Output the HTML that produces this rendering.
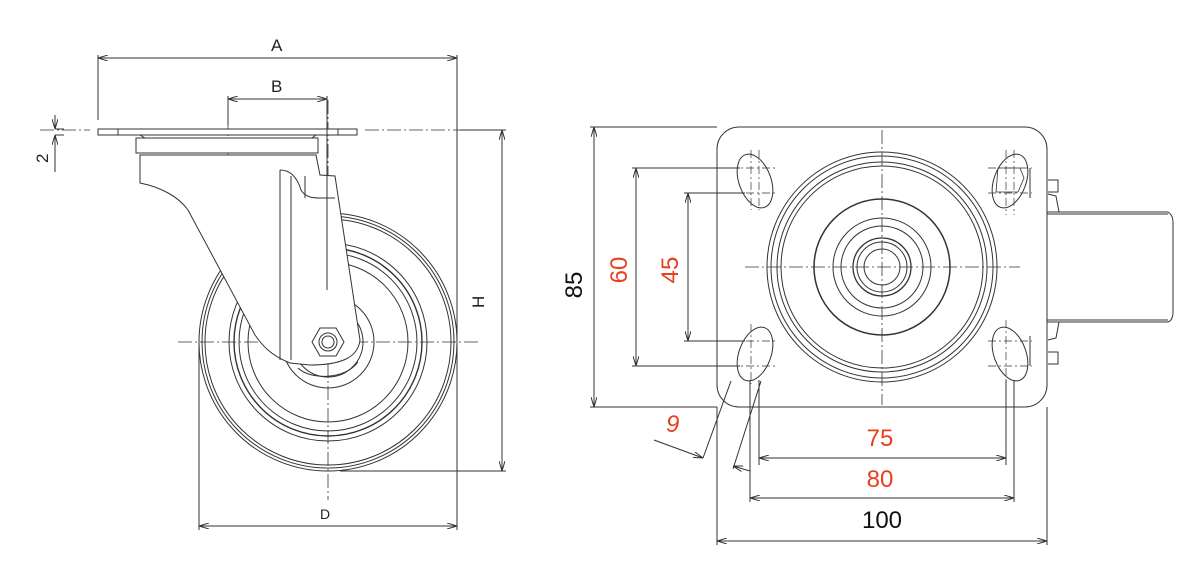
<!DOCTYPE html>
<html><head><meta charset="utf-8"><style>
html,body{margin:0;padding:0;background:#fff}
svg{display:block}
text{font-family:"Liberation Sans",sans-serif}
</style></head><body>
<svg width="1200" height="575" viewBox="0 0 1200 575" xmlns="http://www.w3.org/2000/svg">
<defs>
<marker id="a" viewBox="0 0 10 6" refX="10" refY="3" markerWidth="10" markerHeight="6" orient="auto-start-reverse" markerUnits="userSpaceOnUse">
<path d="M0,0 L10,3 L0,6" fill="none" stroke="#333" stroke-width="1"/>
</marker>
</defs>
<g fill="none" stroke="#333" stroke-width="1">
<!-- ============ LEFT VIEW ============ -->
<!-- center lines -->
<g stroke-dasharray="14,3,2,3" stroke-width="0.8">
<line x1="228" y1="100" x2="228" y2="232"/>
<line x1="328" y1="100" x2="328" y2="500"/>
<line x1="178" y1="342" x2="480" y2="342"/>
<line x1="40" y1="130" x2="90" y2="130"/>
<line x1="365" y1="130" x2="500" y2="130"/>
</g>
<!-- wheel -->
<circle cx="328" cy="342" r="129"/>
<circle cx="328" cy="342" r="126"/>
<circle cx="328" cy="342" r="123"/>
<circle cx="328" cy="342" r="99"/>
<circle cx="328" cy="342" r="94" stroke-width="1.4"/>
<circle cx="328" cy="342" r="89"/>
<circle cx="328" cy="342" r="80"/>
<circle cx="328" cy="342" r="46"/>
<circle cx="328" cy="342" r="35"/>
<!-- plate -->
<rect x="98" y="129" width="259" height="6" fill="#fff"/>
<line x1="118" y1="129" x2="118" y2="135"/>
<line x1="338" y1="129" x2="338" y2="135"/>
<path d="M140,135 L145,138 L312,138 L316,135" />
<rect x="136" y="138" width="182" height="15" fill="#fff"/>
<!-- fork body -->
<path d="M140,155 L316,155 L320,175 L335,176 L360,340 C358,358 340,365 310,365 L290,363 C270,355 262,345 255,335 L188,210 C178,196 160,187 140,183 Z" fill="#fff"/>
<path d="M280,170 L280,360"/>
<path d="M291,176 L291,360"/>
<path d="M280,170 C292,170 298,180 301,190 C305,197 312,198 320,198 L335,198"/>
<line x1="305" y1="176" x2="305" y2="198"/>
<!-- hub arc below fork -->
<path d="M298,368 C310,380 345,380 358,362"/>
<!-- hex nut -->
<polygon points="312,342 320,328 336,328 344,342 336,356 320,356" fill="#fff"/>
<circle cx="328" cy="342" r="9"/>
<circle cx="328" cy="342" r="6"/>
<!-- extension lines -->
<line x1="98" y1="55" x2="98" y2="120"/>
<line x1="457" y1="55" x2="457" y2="530"/>
<line x1="228" y1="96" x2="228" y2="125"/>
<line x1="327" y1="96" x2="327" y2="290"/>
<line x1="199" y1="342" x2="199" y2="530"/>
<line x1="340" y1="471" x2="506" y2="471"/>
<line x1="460" y1="130" x2="506" y2="130"/>
<line x1="55" y1="129" x2="64" y2="129"/>
<line x1="55" y1="135" x2="64" y2="135"/>
<!-- dims -->
<line x1="98" y1="58" x2="457" y2="58" marker-start="url(#a)" marker-end="url(#a)"/>
<line x1="228" y1="99" x2="327" y2="99" marker-start="url(#a)" marker-end="url(#a)"/>
<line x1="502" y1="130" x2="502" y2="471" marker-start="url(#a)" marker-end="url(#a)"/>
<line x1="199" y1="526" x2="457" y2="526" marker-start="url(#a)" marker-end="url(#a)"/>
<line x1="55" y1="115" x2="55" y2="129" marker-end="url(#a)"/>
<line x1="55" y1="172" x2="55" y2="135" marker-end="url(#a)"/>

<!-- ============ RIGHT VIEW ============ -->
<!-- handle -->
<path d="M1047,212 L1168,212 Q1173,215 1173,222 L1173,312 Q1173,320 1168,322 L1047,322"/>
<line x1="1047" y1="214" x2="1168" y2="214"/>
<line x1="1047" y1="320" x2="1168" y2="320"/>
<path d="M1048,180 L1058,180 L1058,192 L1048,192"/>
<path d="M1048,352 L1058,352 L1058,364 L1048,364"/>
<path d="M1048,194 L1056,196 L1059,212"/>
<path d="M1048,340 L1056,338 L1059,322"/>
<!-- plate -->
<rect x="717" y="127" width="330" height="280" rx="22" fill="#fff"/>
<!-- center lines -->
<g stroke-dasharray="14,3,2,3" stroke-width="0.8">
<line x1="882" y1="130" x2="882" y2="405"/>
<line x1="745" y1="267" x2="1020" y2="267"/>
</g>
<!-- circles -->
<circle cx="882" cy="267" r="115"/>
<circle cx="882" cy="267" r="111"/>
<circle cx="882" cy="267" r="105"/>
<circle cx="882" cy="267" r="101"/>
<circle cx="882" cy="267" r="68" stroke-width="1.5"/>
<circle cx="882" cy="267" r="49"/>
<circle cx="882" cy="267" r="41"/>
<circle cx="882" cy="267" r="29" stroke-width="1.3"/>
<circle cx="882" cy="267" r="25"/>
<circle cx="882" cy="267" r="18"/>
<!-- slots -->
<g>
<ellipse cx="755" cy="181" rx="16" ry="28" transform="rotate(-20 755 181)"/>
<ellipse cx="755" cy="354" rx="16" ry="28" transform="rotate(20 755 354)"/>
<ellipse cx="1010" cy="181" rx="16" ry="28" transform="rotate(20 1010 181)"/>
<ellipse cx="1010" cy="354" rx="16" ry="28" transform="rotate(-20 1010 354)"/>
</g>
<g stroke-dasharray="8,3,2,3" stroke-width="0.7">
<line x1="751" y1="150" x2="751" y2="210"/>
<line x1="759" y1="150" x2="759" y2="210"/>
<line x1="730" y1="168" x2="775" y2="168"/>
<line x1="730" y1="193" x2="775" y2="193"/>
<line x1="751" y1="324" x2="751" y2="384"/>
<line x1="730" y1="341" x2="775" y2="341"/>
<line x1="730" y1="366" x2="775" y2="366"/>
<line x1="1006" y1="150" x2="1006" y2="215"/>
<line x1="1014" y1="150" x2="1014" y2="215"/>
<line x1="988" y1="168" x2="1032" y2="168"/>
<line x1="988" y1="193" x2="1032" y2="193"/>
<line x1="1006" y1="320" x2="1006" y2="384"/>
<line x1="988" y1="341" x2="1032" y2="341"/>
<line x1="988" y1="366" x2="1032" y2="366"/>
</g>
<path d="M998,168 L1020,168 L1024,178 L1018,192 L996,192 Z" stroke-width="0.8"/>
<line x1="1030" y1="168" x2="1030" y2="198"/>
<line x1="1030" y1="336" x2="1030" y2="366"/>
<!-- extension lines -->
<line x1="590" y1="127" x2="717" y2="127"/>
<line x1="590" y1="407" x2="717" y2="407"/>
<line x1="632" y1="168" x2="740" y2="168"/>
<line x1="632" y1="366" x2="740" y2="366"/>
<line x1="684" y1="193" x2="745" y2="193"/>
<line x1="684" y1="341" x2="745" y2="341"/>
<line x1="717" y1="407" x2="717" y2="545"/>
<line x1="1047" y1="407" x2="1047" y2="545"/>
<line x1="750" y1="380" x2="750" y2="502"/>
<line x1="1014" y1="380" x2="1014" y2="502"/>
<line x1="759" y1="380" x2="759" y2="465"/>
<line x1="1006" y1="380" x2="1006" y2="465"/>
<line x1="703" y1="458" x2="731" y2="381"/>
<line x1="733" y1="469" x2="761" y2="381"/>
<!-- dims -->
<line x1="594" y1="127" x2="594" y2="407" marker-start="url(#a)" marker-end="url(#a)"/>
<line x1="636" y1="168" x2="636" y2="366" marker-start="url(#a)" marker-end="url(#a)"/>
<line x1="688" y1="193" x2="688" y2="341" marker-start="url(#a)" marker-end="url(#a)"/>
<line x1="759" y1="458" x2="1006" y2="458" marker-start="url(#a)" marker-end="url(#a)"/>
<line x1="750" y1="498" x2="1014" y2="498" marker-start="url(#a)" marker-end="url(#a)"/>
<line x1="717" y1="541" x2="1047" y2="541" marker-start="url(#a)" marker-end="url(#a)"/>
<line x1="654" y1="440" x2="703" y2="458" marker-end="url(#a)"/>
<line x1="750" y1="471" x2="733" y2="466" marker-end="url(#a)"/>
</g>
<!-- labels -->
<g fill="#222" font-size="17">
<text x="271" y="51">A</text>
<text x="271" y="92">B</text>
<text x="476" y="300" transform="rotate(-90 484 300)" x2="0">H</text>
<text x="320" y="519" font-size="14">D</text>
<text x="48" y="163" transform="rotate(-90 48 163)" font-size="17">2</text>
</g>
<g font-size="24" fill="#111">
<text x="582" y="285" transform="rotate(-90 582 285)" text-anchor="middle" dy="0">85</text>
<text x="882" y="528" text-anchor="middle">100</text>
</g>
<g font-size="24" fill="#e8401c">
<text x="627" y="270" transform="rotate(-90 627 270)" text-anchor="middle">60</text>
<text x="678" y="270" transform="rotate(-90 678 270)" text-anchor="middle">45</text>
<text x="880" y="446" text-anchor="middle">75</text>
<text x="880" y="487" text-anchor="middle">80</text>
<text x="666" y="432" font-style="italic">9</text>
</g>
</svg>
</body></html>
